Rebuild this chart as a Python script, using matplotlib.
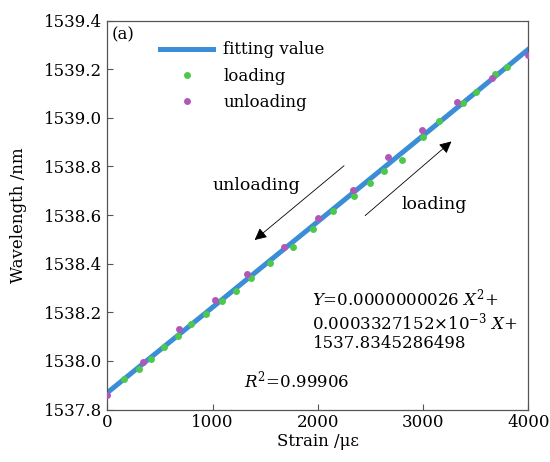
import matplotlib
matplotlib.use("Agg")
import matplotlib.pyplot as plt
import numpy as np

# strain (με) and wavelength (nm)
load_x = [162, 298, 415, 542, 675, 793, 935, 1090, 1220, 1363, 1550, 1762, 1958,
          2149, 2348, 2500, 2633, 2798, 3004, 3150, 3378, 3502, 3688, 3797]
load_y = [1537.926, 1537.966, 1538.008, 1538.059, 1538.104, 1538.151, 1538.193,
          1538.246, 1538.289, 1538.340, 1538.404, 1538.468, 1538.542, 1538.617,
          1538.678, 1538.732, 1538.779, 1538.827, 1538.919, 1538.988, 1539.060,
          1539.108, 1539.179, 1539.208]
unload_x = [0, 342, 682, 1024, 1331, 1677, 2006, 2333, 2665, 2992, 3321, 3657, 3996]
unload_y = [1537.860, 1537.996, 1538.133, 1538.252, 1538.357, 1538.469, 1538.589,
            1538.702, 1538.839, 1538.951, 1539.065, 1539.163, 1539.257]

plt.rcParams['font.family'] = ['DejaVu Serif']
plt.rcParams['mathtext.fontset'] = 'dejavuserif'

fig = plt.figure(figsize=(5.5, 4.62), dpi=100)
ax = fig.add_axes([0.195, 0.1136, 0.7655, 0.842])

# quadratic fit through all points
coef = np.polyfit(load_x + unload_x, load_y + unload_y, 2)
xf = np.linspace(0, 4000, 200)
ax.plot(xf, np.polyval(coef, xf), color='#3a8dd6', lw=3.6, label='fitting value', zorder=2)
ax.plot(load_x, load_y, 'o', color='#4cc94c', ms=5, mew=0, label='loading', zorder=3)
ax.plot(unload_x, unload_y, 'o', color='#b058b8', ms=5, mew=0, label='unloading', zorder=3)

ax.set_xlim(0, 4000)
ax.set_ylim(1537.8, 1539.4)
ax.set_xticks([0, 1000, 2000, 3000, 4000])
ax.set_yticks(np.arange(1537.8, 1539.41, 0.2))
ax.yaxis.set_major_formatter(matplotlib.ticker.FormatStrFormatter('%.1f'))
ax.tick_params(direction='in', length=4, width=0.8, labelsize=12, colors='#555555',
               labelcolor='black')
for s in ax.spines.values():
    s.set_color('#555555')
    s.set_linewidth(0.9)

ax.set_xlabel('Strain /με', fontsize=12, labelpad=1)
ax.set_ylabel('Wavelength /nm', fontsize=12, labelpad=12)

leg = ax.legend(loc='upper left', bbox_to_anchor=(0.09, 0.985), frameon=False, fontsize=12,
                handlelength=3.2, handletextpad=0.6, labelspacing=0.55, markerscale=1.0)

ax.text(0.01, 0.985, '(a)', transform=ax.transAxes, fontsize=12, va='top', ha='left')

ax.annotate('', xy=(1380, 1538.49), xytext=(2270, 1538.81),
            arrowprops=dict(arrowstyle='-|>', color='black', lw=0.6, mutation_scale=18))
ax.annotate('', xy=(3290, 1538.91), xytext=(2430, 1538.59),
            arrowprops=dict(arrowstyle='-|>', color='black', lw=0.6, mutation_scale=18))
ax.text(1000, 1538.72, 'unloading', fontsize=12.5, va='center', ha='left')
ax.text(2800, 1538.645, 'loading', fontsize=12.5, va='center', ha='left')

ax.text(1950, 1538.30, '$Y$=0.0000000026 $X^2$+\n0.0003327152×10$^{-3}$ $X$+\n1537.8345286498',
        fontsize=12, va='top', ha='left', linespacing=1.1)
ax.text(1300, 1537.92, '$R^2$=0.99906', fontsize=12, va='center', ha='left')

fig.savefig('out.png', dpi=100)
